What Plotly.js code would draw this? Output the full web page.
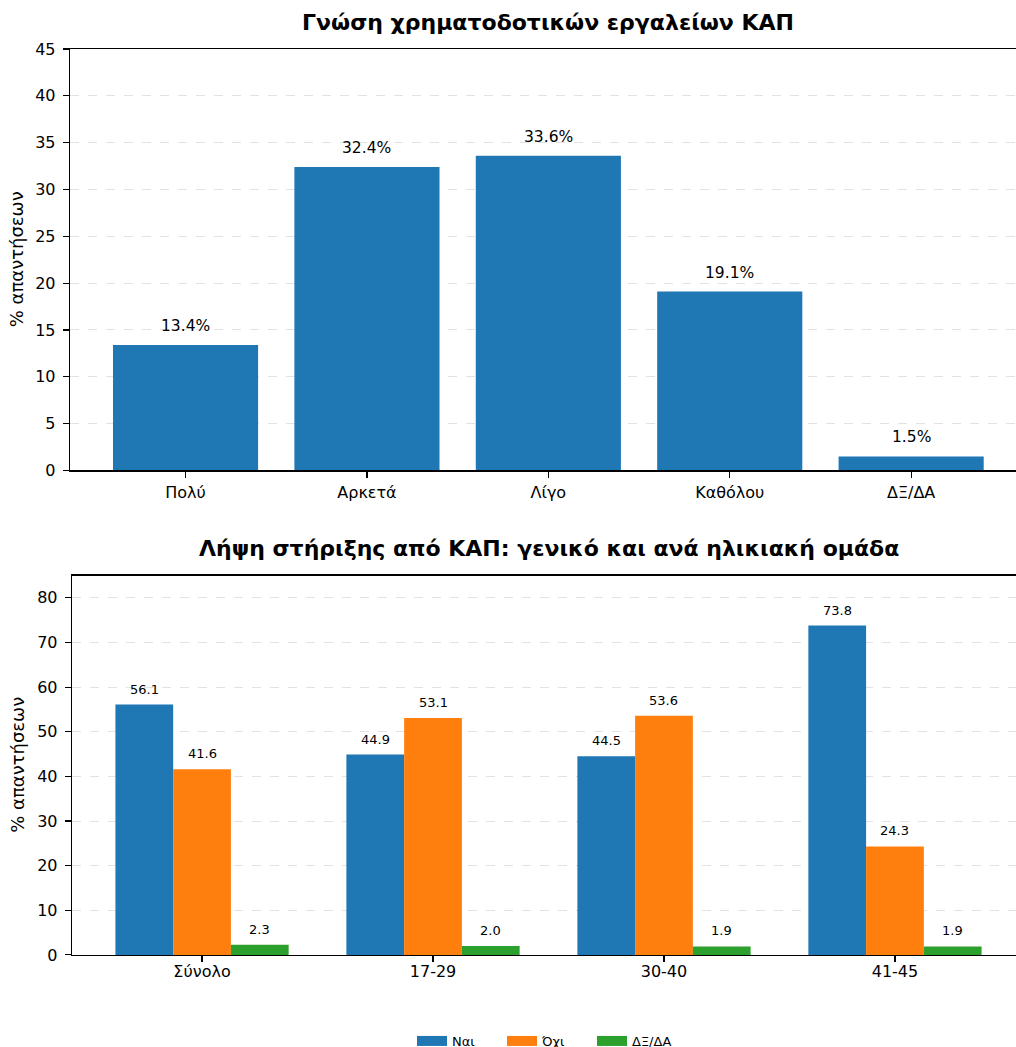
<!DOCTYPE html>
<html>
<head>
<meta charset="utf-8">
<script src="https://cdn.plot.ly/plotly-3.0.1.min.js"></script>
<style>
html,body{margin:0;padding:0;background:#fff;}
#chart{width:1016px;}
</style>
</head>
<body>
<div id="chart"></div>
<script>
// Top chart data
const knowCategories = ["Πολύ", "Αρκετά", "Λίγο", "Καθόλου", "ΔΞ/ΔΑ"];
const knowValues = [13.4, 32.4, 33.6, 19.1, 1.5];

// Bottom chart data
const groupCategories = ["Σύνολο", "17-29", "30-40", "41-45"];
const seriesNames = ["Ναι", "Όχι", "ΔΞ/ΔΑ"];
const yesValues = [56.1, 44.9, 44.5, 73.8];
const noValues = [41.6, 53.1, 53.6, 24.3];
const dkValues = [2.3, 2.0, 1.9, 1.9];

const topTitle = "Γνώση χρηματοδοτικών εργαλείων ΚΑΠ";
const bottomTitle = "Λήψη στήριξης από ΚΑΠ: γενικό και ανά ηλικιακή ομάδα";
const yLabel = "% απαντήσεων";

const W = 1016, REFH = 1047, H = 1056;
const FONT = "DejaVu Sans, Verdana, sans-serif";
const colors = ["#1f77b4", "#ff7f0e", "#2ca02c"];
const py = v => 1 - v / REFH;

const traces = [
  {type: "bar", x: knowCategories, y: knowValues, width: 0.8, marker: {color: colors[0]},
   xaxis: "x", yaxis: "y", showlegend: false, hoverinfo: "x+y"},
];
const groupSeries = [yesValues, noValues, dkValues];
groupSeries.forEach((vals, i) => {
  traces.push({type: "bar", name: seriesNames[i], x: groupCategories, y: vals,
    marker: {color: colors[i]}, xaxis: "x2", yaxis: "y2", showlegend: false, legendgroup: "g" + i});
});
// legend entries drawn as wide patches (matplotlib style)
seriesNames.forEach((name, i) => {
  traces.push({type: "scatter", mode: "lines", name: name, x: [null], y: [null],
    line: {color: colors[i], width: 10}, xaxis: "x2", yaxis: "y2", legendgroup: "g" + i,
    hoverinfo: "skip"});
});

const annotations = [];
knowValues.forEach((v, i) => {
  annotations.push({xref: "x", yref: "y", x: i, y: v, text: v.toFixed(1) + "%",
    showarrow: false, yanchor: "bottom", yshift: 8, font: {family: FONT, size: 15.5, color: "#000"}});
});
const offsets = [-0.25, 0, 0.25];
groupSeries.forEach((vals, s) => {
  vals.forEach((v, i) => {
    annotations.push({xref: "x2", yref: "y2", x: i + offsets[s], y: v, text: v.toFixed(1),
      showarrow: false, yanchor: "bottom", yshift: 6, font: {family: FONT, size: 13, color: "#000"}});
  });
});
annotations.push({xref: "paper", yref: "paper", x: 548 / W, y: py(22), text: "<b>" + topTitle + "</b>",
  showarrow: false, xanchor: "center", yanchor: "middle", font: {family: FONT, size: 22, color: "#000"}});
annotations.push({xref: "paper", yref: "paper", x: 548.5 / W, y: py(548), text: "<b>" + bottomTitle + "</b>",
  showarrow: false, xanchor: "center", yanchor: "middle", font: {family: FONT, size: 22, color: "#000"}});
annotations.push({xref: "paper", yref: "paper", x: 16 / W, y: py(259), text: yLabel, textangle: -90,
  showarrow: false, xanchor: "center", yanchor: "middle", font: {family: FONT, size: 18, color: "#000"}});
annotations.push({xref: "paper", yref: "paper", x: 18 / W, y: py(764), text: yLabel, textangle: -90,
  showarrow: false, xanchor: "center", yanchor: "middle", font: {family: FONT, size: 18, color: "#000"}});

const axisCommon = {
  showline: true, linecolor: "#000", linewidth: 1.3,
  ticks: "outside", ticklen: 6, tickwidth: 1.1, tickcolor: "#000",
  tickfont: {family: FONT, size: 16, color: "#000"}, zeroline: false, fixedrange: true
};

const layout = {
  width: W, height: H,
  margin: {l: 0, r: 0, t: 0, b: 0},
  paper_bgcolor: "#fff", plot_bgcolor: "#fff",
  font: {family: FONT, color: "#000"},
  barmode: "group", bargap: 0.25, bargroupgap: 0,
  xaxis: Object.assign({}, axisCommon, {domain: [70 / W, 1], anchor: "y", mirror: true,
    type: "category", range: [-0.637, 4.578], showgrid: false, ticklabelstandoff: 1}),
  yaxis: Object.assign({}, axisCommon, {domain: [py(470), py(49)], anchor: "x", ticklabelstandoff: 4,
    range: [0, 45], dtick: 5, showgrid: true, gridcolor: "#e2e2e2", griddash: "dash", gridwidth: 1}),
  xaxis2: Object.assign({}, axisCommon, {domain: [72 / W, 1], anchor: "y2", mirror: true,
    type: "category", range: [-0.563, 3.524], showgrid: false, ticklabelstandoff: -4}),
  yaxis2: Object.assign({}, axisCommon, {domain: [py(954), py(575)], anchor: "x2", ticklabelstandoff: 4,
    range: [0, 85], dtick: 10, showgrid: true, gridcolor: "#e2e2e2", griddash: "dash", gridwidth: 1}),
  legend: {orientation: "h", x: 547 / W, xanchor: "center", y: py(1040), yanchor: "middle",
    entrywidth: 45, entrywidthmode: "pixels", traceorder: "normal",
    font: {family: FONT, size: 13, color: "#000"}, bgcolor: "rgba(0,0,0,0)"},
  annotations: annotations,
  showlegend: true
};

Plotly.newPlot("chart", traces, layout, {displayModeBar: false, staticPlot: true});
</script>
</body>
</html>
